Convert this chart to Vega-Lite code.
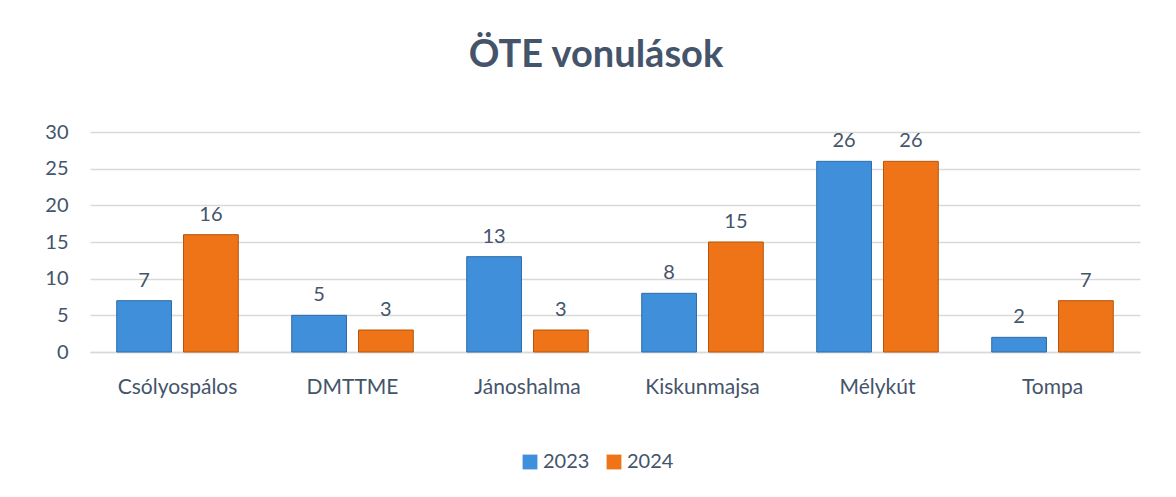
{
  "$schema": "https://vega.github.io/schema/vega-lite/v6.json",
  "width": 1050,
  "height": 220,
  "autosize": {"type": "none"},
  "padding": {"left": 90, "top": 132, "right": 36, "bottom": 145},
  "background": "white",
  "config": {"view": {"stroke": null}},
  "title": {
    "text": "ÖTE vonulások",
    "font": "Lato",
    "fontSize": 38,
    "fontWeight": "bold",
    "color": "#44546A",
    "anchor": "middle",
    "dx": -19,
    "offset": 47
  },
  "data": {
    "values": [
      {"telepules": "Csólyospálos", "ev": "2023", "db": 7},
      {"telepules": "Csólyospálos", "ev": "2024", "db": 16},
      {"telepules": "DMTTME", "ev": "2023", "db": 5},
      {"telepules": "DMTTME", "ev": "2024", "db": 3},
      {"telepules": "Jánoshalma", "ev": "2023", "db": 13},
      {"telepules": "Jánoshalma", "ev": "2024", "db": 3},
      {"telepules": "Kiskunmajsa", "ev": "2023", "db": 8},
      {"telepules": "Kiskunmajsa", "ev": "2024", "db": 15},
      {"telepules": "Mélykút", "ev": "2023", "db": 26},
      {"telepules": "Mélykút", "ev": "2024", "db": 26},
      {"telepules": "Tompa", "ev": "2023", "db": 2},
      {"telepules": "Tompa", "ev": "2024", "db": 7}
    ]
  },
  "encoding": {
    "x": {
      "field": "telepules",
      "type": "nominal",
      "sort": null,
      "title": null,
      "scale": {"paddingInner": 0, "paddingOuter": 0},
      "axis": {
        "labelAngle": 0,
        "labelFont": "Lato",
        "labelFontSize": 21,
        "labelColor": "#44546A",
        "labelPadding": 24,
        "ticks": false,
        "domainColor": "#D9D9D9",
        "domainWidth": 1.5
      }
    },
    "xOffset": {
      "field": "ev",
      "type": "nominal",
      "scale": {"paddingInner": 0.18, "paddingOuter": 0.4}
    },
    "y": {
      "field": "db",
      "type": "quantitative",
      "title": null,
      "scale": {"domain": [0, 30]},
      "axis": {
        "values": [0, 5, 10, 15, 20, 25, 30],
        "labelFont": "Lato",
        "labelFontSize": 20,
        "labelColor": "#44546A",
        "labelPadding": 22,
        "ticks": false,
        "domain": false,
        "gridColor": "#D9D9D9",
        "gridWidth": 1.5
      }
    }
  },
  "layer": [
    {
      "mark": {"type": "bar", "strokeWidth": 1},
      "encoding": {
        "color": {
          "field": "ev",
          "type": "nominal",
          "title": null,
          "scale": {"domain": ["2023", "2024"], "range": ["#3F8FDA", "#EE7417"]},
          "legend": {
            "orient": "none",
            "legendX": 430,
            "legendY": 320,
            "direction": "horizontal",
            "symbolType": "square",
            "symbolSize": 220,
            "symbolStrokeWidth": 0,
            "labelFont": "Lato",
            "labelFontSize": 20,
            "labelColor": "#44546A",
            "columnPadding": 14,
            "labelOffset": 3
          }
        },
        "stroke": {
          "field": "ev",
          "type": "nominal",
          "scale": {"domain": ["2023", "2024"], "range": ["#2F6DA8", "#B5560F"]},
          "legend": null
        }
      }
    },
    {
      "mark": {
        "type": "text",
        "baseline": "bottom",
        "dy": -10,
        "font": "Lato",
        "fontSize": 20,
        "color": "#44546A"
      },
      "encoding": {"text": {"field": "db", "type": "quantitative"}}
    }
  ]
}
